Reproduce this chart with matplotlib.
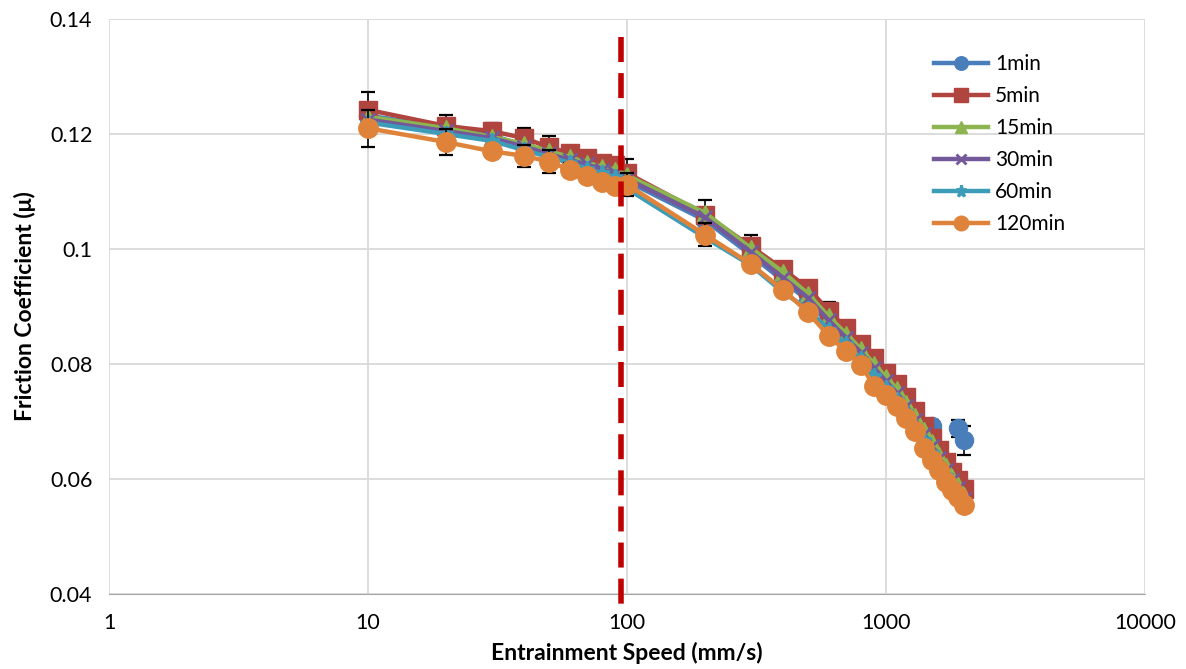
import numpy as np
import matplotlib.pyplot as plt
from matplotlib.lines import Line2D

plt.rcParams['font.family'] = ['Lato', 'DejaVu Sans']

# entrainment speeds (mm/s)
speed = [10, 20, 30, 40, 50, 60, 70, 80, 90, 100,
         200, 300, 400, 500, 600, 700, 800, 900, 1000,
         1100, 1200, 1300, 1400, 1500, 1600, 1700, 1800, 1900, 2000]

mu_1min = [0.1232, 0.1212, 0.1198, 0.1180, 0.1168, 0.1158, 0.1150, 0.1142, 0.1136, 0.1118,
           0.1050, 0.0990, 0.0945, 0.0910, 0.0870, 0.0842, 0.0815, 0.0790, 0.0768,
           0.0748, 0.0725, 0.0700, 0.0678, 0.0692, np.nan, np.nan, np.nan, 0.0688, 0.0667]
mu_5min = [0.1242, 0.1214, 0.1205, 0.1193, 0.1177, 0.1167, 0.1158, 0.1150, 0.1146, 0.1132,
           0.1060, 0.1005, 0.0965, 0.0932, 0.0893, 0.0862, 0.0835, 0.0810, 0.0785,
           0.0765, 0.0742, 0.0718, 0.0693, 0.0671, 0.0650, 0.0630, 0.0612, 0.0598, 0.0582]
mu_15min = [0.1230, 0.1210, 0.1195, 0.1183, 0.1170, 0.1160, 0.1150, 0.1143, 0.1138, 0.1128,
            0.1063, 0.1002, 0.0960, 0.0922, 0.0883, 0.0853, 0.0826, 0.0800, 0.0777,
            0.0757, 0.0733, 0.0710, 0.0686, 0.0664, 0.0642, 0.0622, 0.0604, 0.0589, 0.0572]
mu_30min = [0.1225, 0.1205, 0.1193, 0.1178, 0.1165, 0.1155, 0.1147, 0.1138, 0.1132, 0.1122,
            0.1055, 0.0995, 0.0950, 0.0915, 0.0876, 0.0846, 0.0820, 0.0793, 0.0770,
            0.0750, 0.0727, 0.0703, 0.0679, 0.0658, 0.0636, 0.0616, 0.0599, 0.0584, 0.0566]
mu_60min = [0.1220, 0.1200, 0.1188, 0.1172, 0.1160, 0.1150, 0.1140, 0.1132, 0.1125, 0.1105,
            0.1020, 0.0972, 0.0925, 0.0895, 0.0860, 0.0835, 0.0808, 0.0780, 0.0758,
            0.0738, 0.0716, 0.0693, 0.0668, 0.0646, 0.0625, 0.0605, 0.0590, 0.0575, 0.0560]
mu_120min = [0.1210, 0.1186, 0.1170, 0.1162, 0.1152, 0.1138, 0.1127, 0.1116, 0.1110, 0.1112,
             0.1025, 0.0974, 0.0929, 0.0890, 0.0849, 0.0823, 0.0798, 0.0762, 0.0746,
             0.0727, 0.0706, 0.0683, 0.0654, 0.0633, 0.0615, 0.0594, 0.0581, 0.0569, 0.0554]

# standard deviations
err_1min = [0.0010] * 27 + [0.0015, 0.0026]
err_5min = [0.0031, 0.0019, 0.0015, 0.0017, 0.0020, 0.0012, 0.0012, 0.0010, 0.0010, 0.0025,
            0.0026, 0.0020, 0.0010, 0.0008, 0.0015, 0.0010, 0.0010, 0.0012, 0.0010,
            0.0008, 0.0008, 0.0008, 0.0008, 0.0008, 0.0008, 0.0008, 0.0008, 0.0008, 0.0008]
err_120min = [0.0032, 0.0023, 0.0010, 0.0019, 0.0020, 0.0012, 0.0010, 0.0008, 0.0010, 0.0020,
              0.0020, 0.0008, 0.0010, 0.0008, 0.0010, 0.0010, 0.0012, 0.0008, 0.0008,
              0.0008, 0.0008, 0.0010, 0.0010, 0.0010, 0.0010, 0.0008, 0.0008, 0.0008, 0.0008]

labels = ['1min', '5min', '15min', '30min', '60min', '120min']
colors = ['#4A7EBB', '#B0443F', '#8CB44F', '#73589A', '#3D9CB8', '#E0833A']
markers = ['o', 's', '^', 'x', '*', 'o']
msizes = [13, 13, 11, 10, 11, 14]
series = [mu_1min, mu_5min, mu_15min, mu_30min, mu_60min, mu_120min]
errors = [err_1min, err_5min, None, None, None, err_120min]

boundary_speed = 95

fig = plt.figure(figsize=(11.86, 6.69), dpi=100)
ax = fig.add_axes([0.0919, 0.1121, 0.8735, 0.8595])

for i, (y, lab, c, m, ms, e) in enumerate(zip(series, labels, colors, markers, msizes, errors)):
    if e is not None:
        ax.errorbar(speed, y, yerr=e, fmt='none', ecolor='black', elinewidth=1.2,
                    capsize=5, capthick=1.6, zorder=2 + i)
    mew = 2.0 if m in ('x', '*') else 1
    ax.plot(speed, y, color=c, lw=3.2, marker=m, markersize=ms, markeredgewidth=mew,
            markerfacecolor=c, markeredgecolor=c, label=lab, zorder=3 + i)

# lubrication regime boundary
ax.add_line(Line2D([boundary_speed, boundary_speed], [0.1368, 0.038], color='#C00000',
                   lw=4, dashes=(4.5, 2), clip_on=False, zorder=20))

ax.set_xscale('log')
ax.set_xlim(1, 10000)
ax.set_ylim(0.04, 0.14)
ax.set_xticks([1, 10, 100, 1000, 10000])
ax.set_xticklabels(['1', '10', '100', '1000', '10000'])
ax.set_yticks([0.04, 0.06, 0.08, 0.1, 0.12, 0.14])
ax.set_yticklabels(['0.04', '0.06', '0.08', '0.1', '0.12', '0.14'])
ax.xaxis.set_minor_locator(plt.NullLocator())
ax.grid(True, color='#D9D9D9', lw=1.3, zorder=0)
ax.set_axisbelow(True)
for s in ['top', 'right', 'left']:
    ax.spines[s].set_visible(False)
ax.spines['bottom'].set_color('#A6A6A6')
ax.tick_params(axis='both', length=0, labelsize=15.5, colors='black')
ax.tick_params(axis='x', pad=14)
ax.tick_params(axis='y', pad=12)

ax.set_xlabel('Entrainment Speed (mm/s)', fontsize=16.5, fontweight='bold', labelpad=6)
ax.set_ylabel('Friction Coefficient (μ)', fontsize=16.5, fontweight='bold', labelpad=10)

ax.legend(loc='upper left', bbox_to_anchor=(0.778, 0.972), frameon=False, fontsize=15,
          markerscale=0.75, handlelength=2.6, labelspacing=0.58, handletextpad=0.35)

fig.savefig('out.png', dpi=100)
